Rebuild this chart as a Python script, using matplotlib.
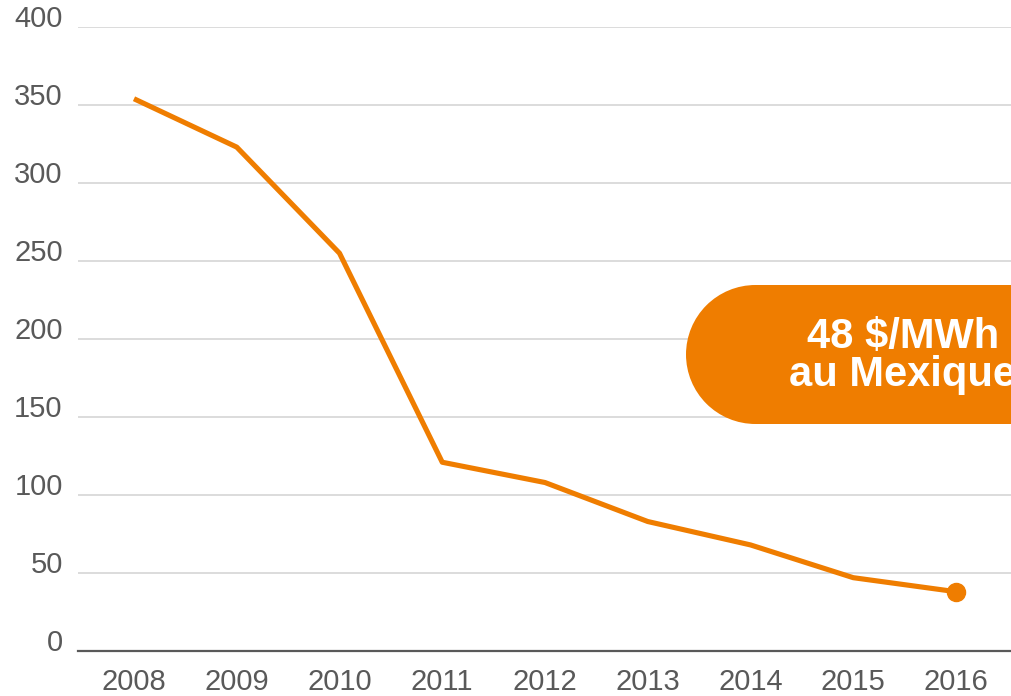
import matplotlib
matplotlib.use('Agg')
from matplotlib import pyplot as plt
from matplotlib.patches import Circle, Rectangle

# data
years = ['2008', '2009', '2010', '2011', '2012', '2013', '2014', '2015', '2016']
prices = [354, 323, 255, 121, 108, 83, 68, 47, 38]
y_ticks = [0, 50, 100, 150, 200, 250, 300, 350, 400]
callout = '48 $/MWh\nau Mexique'

orange = '#EF7D00'
grey_text = '#595959'

plt.rcParams['font.family'] = ['Liberation Sans', 'DejaVu Sans']

fig = plt.figure(figsize=(10.12, 6.96), dpi=100)
ax = fig.add_axes([78/1012, 45/696, 934/1012, 624/696])

x = list(range(len(years)))
ax.plot(x, prices, color=orange, lw=3.7, solid_capstyle='butt', zorder=3)
ax.plot(x[-1], prices[-1], 'o', color=orange, ms=13, zorder=4)

ax.set_xlim(-0.545, len(years) - 1 + 0.545)
ax.set_ylim(0, 400)
ax.set_yticks(y_ticks)
ax.set_xticks(x)
ax.set_xticklabels(years)
ax.grid(axis='y', color='#D9D9D9', lw=1.3, zorder=0)
for s in ['top', 'right', 'left']:
    ax.spines[s].set_visible(False)
ax.spines['bottom'].set_color(grey_text)
ax.spines['bottom'].set_linewidth(1.6)
ax.tick_params(axis='both', length=0, labelsize=21, labelcolor=grey_text)
ax.tick_params(axis='y', pad=11)
ax.tick_params(axis='x', pad=12)
for lab in ax.get_yticklabels():
    lab.set_va('baseline')

# callout pill on the right, cut off by the figure edge (inches)
r = 0.695
x0, y0 = 6.86, 2.72
fig.patches.append(Circle((x0 + r, y0 + r), r, transform=fig.dpi_scale_trans,
                          fc=orange, ec='none', zorder=5))
fig.patches.append(Rectangle((x0 + r, y0), 4.0, 2 * r, transform=fig.dpi_scale_trans,
                             fc=orange, ec='none', zorder=5))
fig.text(903/1012, 1 - 356/696, callout, color='white', fontsize=30,
         fontweight='bold', ha='center', va='center', linespacing=0.92,
         zorder=6)

fig.savefig('out.png', dpi=100)
